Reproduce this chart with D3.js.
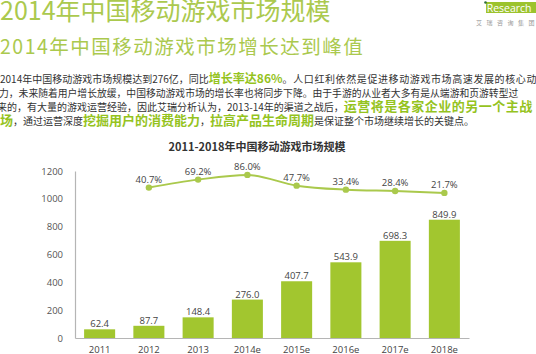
<!DOCTYPE html>
<html>
<head>
<meta charset="utf-8">
<script src="https://cdn.jsdelivr.net/npm/d3@7"></script>
<style>
  body { margin: 0; background: #fff; overflow: hidden; }
  svg { display: block; }
</style>
</head>
<body>
<div id="viz"></div>
<script>
// données
const annees = ['2011', '2012', '2013', '2014e', '2015e', '2016e', '2017e', '2018e'];
const marche = [62.4, 87.7, 148.4, 276.0, 407.7, 543.9, 698.3, 849.9]; // 亿元
const croissance = [null, 40.7, 69.2, 86.0, 47.7, 33.4, 28.4, 21.7]; // %
const ticksY = [0, 200, 400, 600, 800, 1000, 1200];

const titre = '2014年中国移动游戏市场规模';
const sousTitre = '2014年中国移动游戏市场增长达到峰值';
const titreGraph = '2011-2018年中国移动游戏市场规模';

// paragraphe : [texte, surligné ?]
const lignes = [
  [['2014年中国移动游戏市场规模达到276亿，同比', 0], ['增长率达86%', 1], ['。人口红利依然是促进移动游戏市场高速发展的核心动', 0]],
  [['力，未来随着用户增长放缓，中国移动游戏市场的增长率也将同步下降。由于手游的从业者大多有是从端游和页游转型过', 0]],
  [['来的，有大量的游戏运营经验，因此艾瑞分析认为，2013-14年的渠道之战后，', 0], ['运营将是各家企业的另一个主战', 1]],
  [['场', 1], ['，通过运营深度', 0], ['挖掘用户的消费能力', 1], ['，', 0], ['拉高产品生命周期', 1], ['是保证整个市场继续增长的关键点。', 0]]
];

const W = 536, H = 354;
const vert = '#a2c62f';
const vertClair = '#aac94c';
const vertTexte = '#95c31e';
const cjk = '"Noto Sans CJK SC", sans-serif';
const chiffres = '"Open Sans", "Noto Sans", sans-serif';

const svg = d3.select('#viz').append('svg')
  .attr('width', W).attr('height', H);

// titres
svg.append('text')
  .attr('x', 0).attr('y', 20)
  .style('font', `25px ${cjk}`)
  .attr('fill', '#abc94e')
  .text(titre);

svg.append('text')
  .attr('x', 0).attr('y', 54)
  .style('font', `19.5px ${cjk}`)
  .attr('letter-spacing', '1.5px')
  .attr('fill', '#abc94e')
  .text(sousTitre);

// logo iResearch
const logo = svg.append('g');
logo.append('rect').attr('x', 486).attr('y', 2).attr('width', 50).attr('height', 11).attr('fill', '#9cc32d');
logo.append('text').attr('x', 484).attr('y', 11.5)
  .style('font', `10.5px ${chiffres}`).attr('fill', '#fff')
  .text('iResearch');
logo.append('circle').attr('cx', 485.5).attr('cy', 2.5).attr('r', 1.3).attr('fill', '#2f6f3a');
logo.append('text').attr('x', 476).attr('y', 25)
  .style('font', `6px ${cjk}`).attr('fill', '#999')
  .attr('letter-spacing', '4.5px')
  .text('艾瑞咨询集团');

// paragraphe
const basesLignes = [83, 97, 111, 125];
const tailles = [10, 9.8, 10, 10];
lignes.forEach((segs, i) => {
  const t = svg.append('text')
    .attr('x', i === 2 ? -3 : (i === 1 ? -1 : 0))
    .attr('y', basesLignes[i]);
  t.selectAll('tspan')
    .data(segs)
    .join('tspan')
      .style('font', d => d[1] ? `bold ${i === 0 ? 12 : 13}px ${cjk}` : `${tailles[i]}px ${cjk}`)
      .attr('letter-spacing', (d, j) => (i === 0 && j === 2) ? '0.6px' : (i === 2 && d[1] ? '0.5px' : null))
      .attr('fill', d => d[1] ? vertTexte : '#333')
      .text(d => d[0]);
});

// graphique
const echelleX = d3.scaleBand()
  .domain(annees)
  .range([75, 469])
  .paddingInner(0.37)
  .paddingOuter(0.185);

const echelleY = d3.scaleLinear()
  .domain([0, 1200])
  .range([338, 171]);

const echelleP = d3.scaleLinear() // axe secondaire non affiché
  .domain([0, 100])
  .range([199, 171]);

svg.append('text')
  .attr('x', 257).attr('y', 151)
  .attr('text-anchor', 'middle')
  .style('font', `bold 11px ${cjk}`)
  .attr('fill', '#333')
  .text(titreGraph);

// axe Y
svg.append('g')
  .attr('transform', 'translate(75,0)')
  .call(d3.axisLeft(echelleY).tickValues(ticksY).tickFormat(d3.format('d')).tickSize(0).tickPadding(12))
  .call(g => g.select('.domain').attr('stroke', '#b5b5b5').attr('stroke-width', 1.2))
  .call(g => g.selectAll('text').style('font', `9.5px ${chiffres}`).attr('fill', '#555'));

// axe X
svg.append('g')
  .attr('transform', 'translate(0,338)')
  .call(d3.axisBottom(echelleX).tickSize(0).tickSizeOuter(0).tickPadding(8))
  .call(g => g.select('.domain').attr('stroke', '#b5b5b5').attr('stroke-width', 1.2))
  .call(g => g.selectAll('text').style('font', `9.5px ${chiffres}`).attr('fill', '#444'));

// barres
svg.append('g').selectAll('rect')
  .data(marche)
  .join('rect')
    .attr('x', (d, i) => echelleX(annees[i]))
    .attr('y', d => echelleY(d))
    .attr('width', echelleX.bandwidth())
    .attr('height', d => echelleY(0) - echelleY(d))
    .attr('fill', vert);

svg.append('g').selectAll('text')
  .data(marche)
  .join('text')
    .attr('x', (d, i) => echelleX(annees[i]) + echelleX.bandwidth() / 2)
    .attr('y', d => echelleY(d) - 2)
    .attr('text-anchor', 'middle')
    .style('font', `9.5px ${chiffres}`)
    .attr('fill', '#444')
    .text(d => d.toFixed(1));

// courbe de croissance
const pts = croissance.map((p, i) => ({ an: annees[i], p })).filter(d => d.p !== null);
const ligne = d3.line()
  .x(d => echelleX(d.an) + echelleX.bandwidth() / 2)
  .y(d => echelleP(d.p))
  .curve(d3.curveMonotoneX);

svg.append('path')
  .datum(pts)
  .attr('d', ligne)
  .attr('fill', 'none')
  .attr('stroke', vertClair)
  .attr('stroke-width', 2);

svg.append('g').selectAll('circle')
  .data(pts)
  .join('circle')
    .attr('cx', d => echelleX(d.an) + echelleX.bandwidth() / 2)
    .attr('cy', d => echelleP(d.p))
    .attr('r', 3.2)
    .attr('fill', vertClair);

svg.append('g').selectAll('text')
  .data(pts)
  .join('text')
    .attr('x', d => echelleX(d.an) + echelleX.bandwidth() / 2)
    .attr('y', d => echelleP(d.p) - 5)
    .attr('text-anchor', 'middle')
    .style('font', `9.5px ${chiffres}`)
    .attr('fill', '#444')
    .text(d => d.p.toFixed(1) + '%');
</script>
</body>
</html>
